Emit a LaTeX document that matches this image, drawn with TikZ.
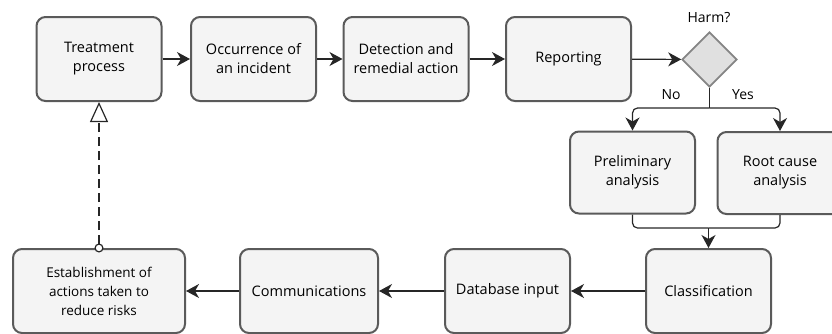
\documentclass[tikz,border=0pt]{standalone}
\usepackage{fontspec}
\setmainfont{Open Sans}
\usetikzlibrary{arrows.meta,shapes.geometric}
\definecolor{boxfill}{HTML}{F4F4F4}
\definecolor{boxline}{HTML}{5A5A5A}
\definecolor{dfill}{HTML}{E0E0E0}
\definecolor{dline}{HTML}{858585}
\tikzset{
  proc/.style={draw=boxline, fill=boxfill, line width=2pt, rounded corners=9pt,
    minimum width=125pt, minimum height=84pt, inner sep=0pt, align=center,
    font=\fontsize{14.5}{19}\selectfont, text=black},
  gate/.style={diamond, draw=dline, fill=dfill, line width=1.8pt, minimum width=55pt,
    minimum height=55pt, inner sep=0pt},
  flow/.style={line width=1.2pt, draw=black!85, -{Stealth[length=13pt,width=14pt,inset=4pt]}},
  link/.style={line width=1.2pt, draw=black!85, rounded corners=5pt},
  lbl/.style={font=\fontsize{14}{16}\selectfont, text=black, inner sep=0pt}
}
\begin{document}
\begin{tikzpicture}[x=1pt,y=-1pt]
\useasboundingbox (0,0) rectangle (832,333);
\node[proc] (treat) at (99,59) {Treatment\\process};
\node[proc] (occ) at (253.5,59) {Occurrence of\\an incident};
\node[proc] (det) at (406,59) {Detection and\\remedial action};
\node[proc] (rep) at (568.5,59) {Reporting};
\node[gate] (harm) at (709.5,59.5) {};
\node[lbl] (harmlbl) at (709,18) {Harm?};
\node[proc, minimum height=82pt] (pre) at (632.5,172.5) {Preliminary\\analysis};
\node[proc, minimum height=82pt] (root) at (780,173) {Root cause\\analysis};
\node[proc] (cls) at (708.5,291) {Classification};
\node[proc] (db) at (507.5,291) {Database input};
\node[proc, minimum width=138pt] (com) at (309,291) {Communications};
\node[proc, minimum width=172pt, font=\fontsize{13.5}{19}\selectfont] (est) at (99,291) {Establishment of\\actions taken to\\reduce risks};
\node[lbl] (no) at (671,95) {No};
\node[lbl] (yes) at (743,95) {Yes};
\coordinate (split) at (709.5,108);
\coordinate (merge) at (708.5,228);

\draw[flow] (treat) -- (occ);
\draw[flow] (occ) -- (det);
\draw[flow] (det) -- (rep);
\draw[flow] (rep) -- (harm);
\draw[link] (harm.south) -- (split);
\draw[flow, rounded corners=5pt] (split) -| (pre.north);
\draw[flow, rounded corners=5pt] (split) -| (root.north);
\draw[link] (pre.south) |- (merge);
\draw[link] (root.south) |- (merge);
\draw[flow] (merge) -- (cls.north);
\draw[flow] (cls) -- (db);
\draw[flow] (db) -- (com);
\draw[flow] (com) -- (est);
\draw[line width=1.2pt, draw=black!85, dash pattern=on 9pt off 5pt, shorten <=-4.5pt,
  {Circle[open,length=9pt,width=9pt,fill=white]}-{Triangle[open,length=20pt,width=18pt,fill=white]}]
  (est.north -| treat.south) -- (treat.south);
\end{tikzpicture}
\end{document}
